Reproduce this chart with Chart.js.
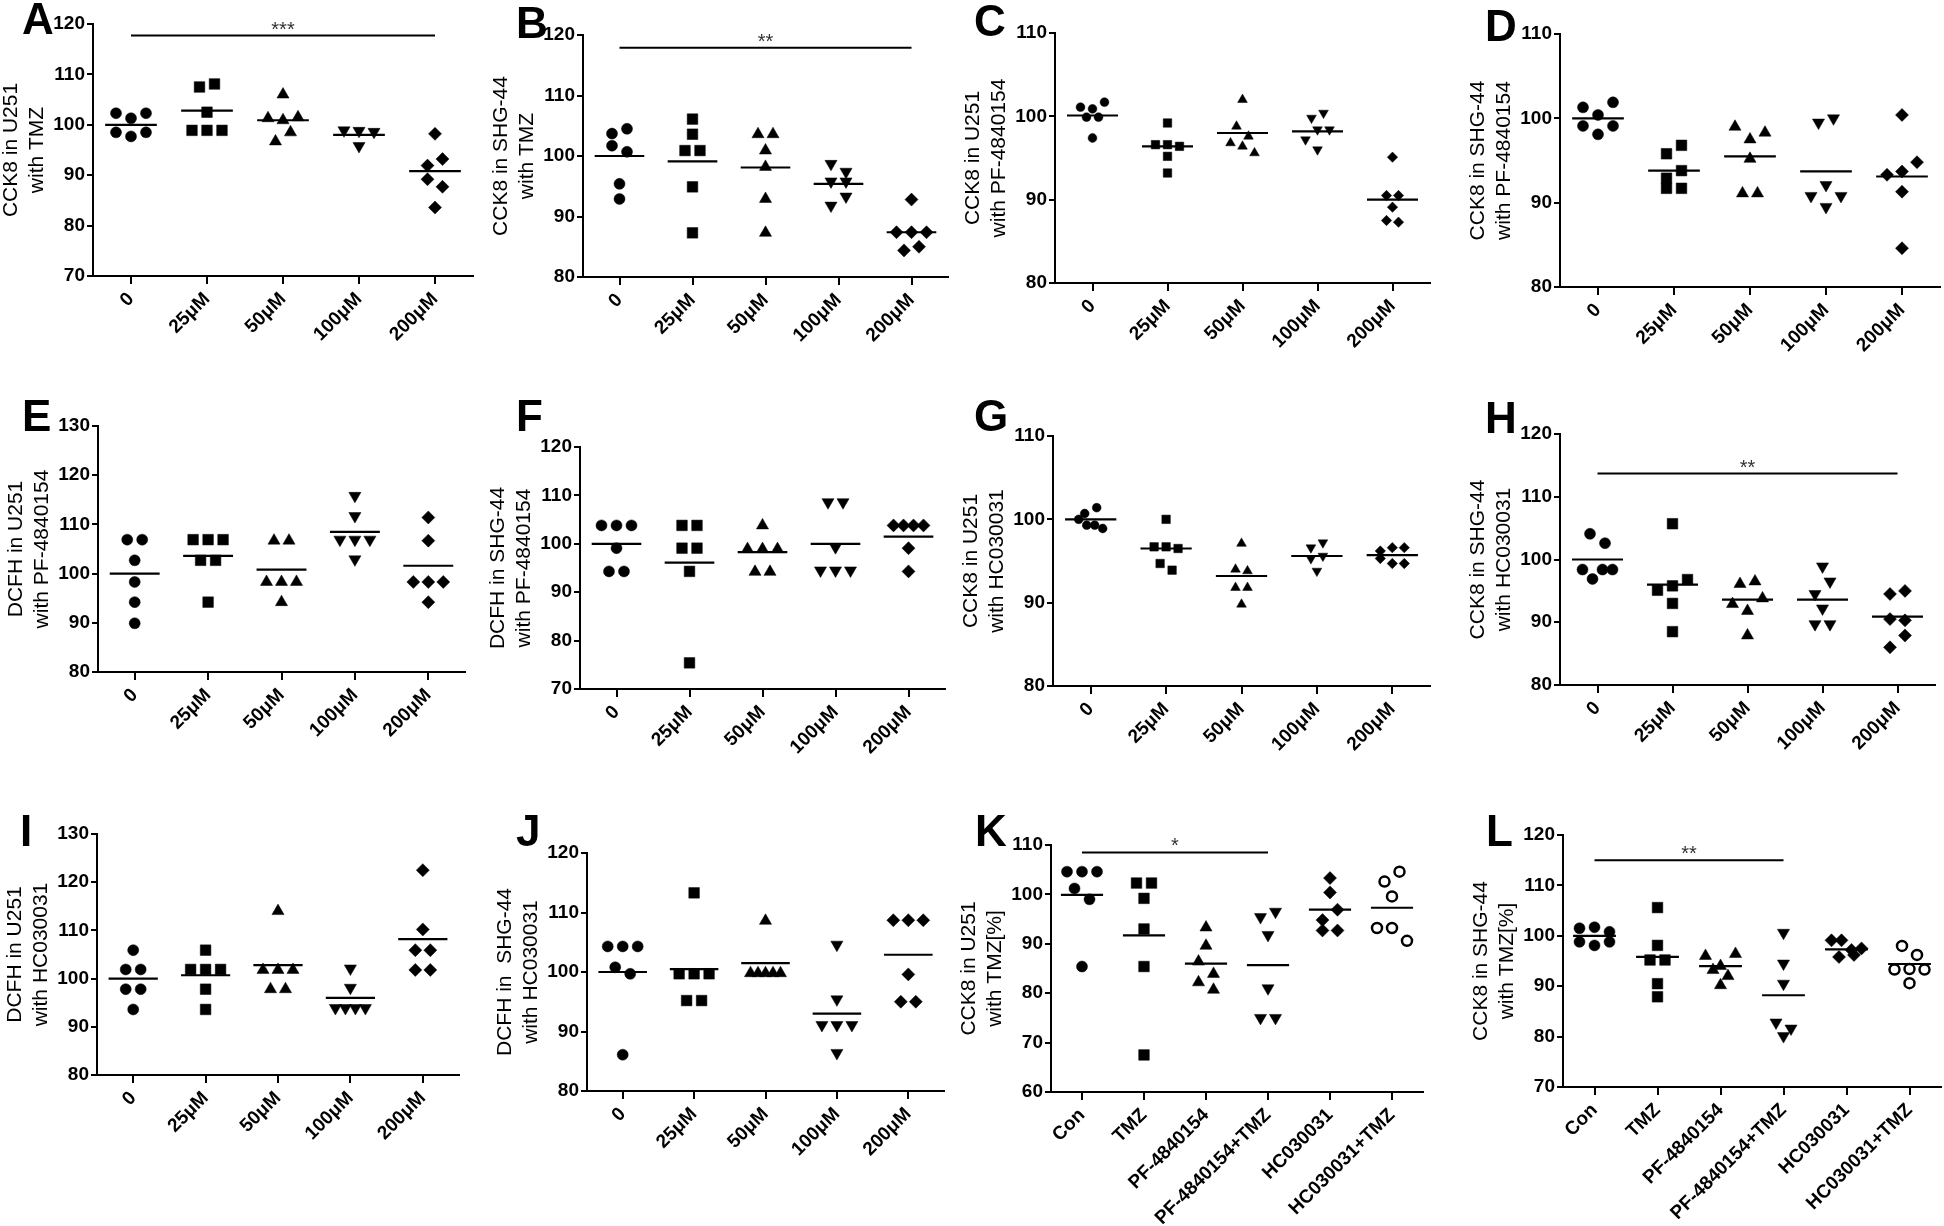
<!DOCTYPE html>
<html>
<head>
<meta charset="utf-8">
<title>CCK8 / DCFH dot plots</title>
<script src="https://cdn.jsdelivr.net/npm/chart.js@4.4.1/dist/chart.umd.min.js"></script>
<style>
  html, body { margin: 0; padding: 0; overflow: hidden; background: #fff; }
  #page { position: relative; width: 1944px; height: 1226px; }
  canvas { position: absolute; }
  .letter { position: absolute; font: bold 44px "Liberation Sans", Arial, sans-serif; line-height: 44px; color: #000; }
</style>
</head>
<body>
<div id="page"></div>
<script>
// categories
const doseLabels = ["0", "25μM", "50μM", "100μM", "200μM"];
const comboLabels = ["Con", "TMZ", "PF-4840154", "PF-4840154+TMZ", "HC030031", "HC030031+TMZ"];

// values, one list per group (left to right inside a row)
const aVals = [[102.3, 101.3, 102.3, 98.5, 97.7, 98.5], [107.5, 108.1, 102.5, 98.9, 98.9, 98.9], [106.0, 101.3, 100.9, 101.5, 96.7, 98.5], [98.9, 98.8, 98.6, 95.8], [98.2, 91.9, 93.2, 89.2, 87.7, 83.6]];
const aMeans = [100.0, 102.8, 100.9, 98.0, 90.8];
const aSig = [0, 4, 117.7, "***"];

const bVals = [[103.7, 104.5, 101.7, 100.7, 95.4, 92.9], [106.1, 103.6, 100.9, 100.9, 94.9, 87.3], [103.6, 103.6, 100.9, 98.2, 92.9, 87.3], [98.7, 97.4, 95.8, 95.8, 91.8, 93.3], [92.8, 87.4, 87.4, 87.4, 84.4, 85.0]];
const bMeans = [100.0, 99.1, 98.1, 95.4, 87.4];
const bSig = [0, 4, 117.9, "**"];

const cVals = [[101.1, 100.9, 101.7, 99.9, 99.9, 97.4], [99.2, 96.6, 96.6, 96.4, 95.2, 93.2], [102.0, 98.8, 97.6, 96.8, 96.4, 95.6], [99.8, 100.4, 97.2, 98.4, 98.4, 96.0], [95.1, 90.5, 90.5, 89.1, 87.5, 87.3]];
const cMeans = [100.1, 96.4, 98.0, 98.2, 90.0];

const dVals = [[101.3, 100.4, 101.9, 99.1, 98.1, 99.1], [95.8, 96.8, 92.9, 93.8, 91.7, 91.7], [99.0, 97.5, 98.3, 95.2, 91.1, 91.1], [99.5, 100.0, 90.8, 92.1, 90.8, 89.5], [100.4, 93.3, 93.7, 94.8, 91.3, 84.6]];
const dMeans = [100.0, 93.8, 95.5, 93.7, 93.1];

const eVals = [[106.9, 106.9, 102.7, 98.3, 94.2, 89.9], [106.9, 106.9, 106.9, 102.7, 102.7, 94.2], [106.7, 106.7, 98.3, 98.3, 98.3, 94.2], [115.8, 111.7, 106.9, 106.9, 106.9, 102.9], [111.4, 106.7, 98.3, 98.3, 98.3, 94.2]];
const eMeans = [100.0, 103.6, 100.8, 108.5, 101.6];

const fVals = [[103.8, 103.8, 103.8, 99.1, 94.3, 94.3], [103.8, 103.8, 99.1, 99.1, 94.3, 75.4], [103.8, 98.9, 98.9, 98.9, 94.2, 94.2], [108.6, 108.6, 99.3, 94.5, 94.5, 94.5], [103.8, 103.8, 103.8, 103.8, 99.1, 94.3]];
const fMeans = [100.0, 96.1, 98.3, 100.0, 101.5];

const gVals = [[100.7, 101.4, 100.0, 99.3, 99.3, 98.9], [100.0, 96.7, 96.7, 96.5, 94.7, 93.9], [97.1, 94.0, 93.8, 91.8, 91.8, 89.8], [96.6, 97.2, 95.3, 95.6, 93.8], [96.2, 96.6, 96.6, 95.3, 94.7, 94.7]];
const gMeans = [100.0, 96.5, 93.2, 95.6, 95.7];

const hVals = [[104.1, 102.6, 98.4, 96.9, 98.4, 98.4], [105.7, 95.1, 95.8, 96.8, 93.0, 88.5], [96.1, 96.5, 92.9, 91.8, 93.8, 87.9], [98.9, 94.5, 96.5, 92.2, 89.7, 89.7], [94.5, 95.0, 90.5, 90.3, 86.0, 87.9]];
const hMeans = [100.0, 96.0, 93.6, 93.6, 90.9];
const hSig = [0, 4, 113.7, "**"];

const iVals = [[105.9, 101.9, 101.9, 97.8, 97.8, 93.6], [105.9, 101.9, 101.9, 101.9, 97.8, 93.6], [114.0, 101.8, 101.8, 101.8, 97.8, 97.8], [102.1, 98.1, 93.9, 93.9, 93.9, 93.9], [122.5, 110.2, 105.9, 105.9, 101.8, 101.8]];
const iMeans = [100.0, 100.7, 102.8, 96.0, 108.2];

const jVals = [[104.3, 104.3, 104.3, 100.8, 99.7, 86.1], [113.3, 99.7, 99.7, 99.7, 95.2, 95.2], [108.6, 99.8, 99.8, 99.8, 99.8, 99.8], [104.6, 95.4, 91.1, 91.1, 91.1, 86.4], [108.7, 108.7, 108.7, 99.6, 95.0, 95.0]];
const jMeans = [100.0, 100.5, 101.5, 93.0, 102.9];

const kVals = [[104.6, 104.6, 104.6, 101.2, 99.0, 85.4], [102.3, 102.3, 99.2, 93.0, 85.4, 67.5], [93.3, 89.6, 86.4, 83.9, 82.2, 80.7], [95.4, 96.5, 91.8, 81.0, 75.0, 75.0], [103.3, 100.4, 94.8, 96.9, 92.7, 92.7], [102.6, 104.6, 99.6, 93.2, 93.2, 90.6]];
const kMeans = [99.9, 91.7, 86.0, 85.7, 96.9, 97.3];
const kSig = [0, 3, 108.5, "*"];

const lVals = [[101.5, 101.7, 100.8, 98.8, 98.1, 98.8], [105.6, 98.1, 95.2, 95.2, 90.5, 87.9], [96.0, 94.0, 96.4, 93.2, 92.0, 90.2], [100.6, 94.5, 90.5, 82.8, 81.6, 80.1], [99.1, 99.1, 97.2, 97.5, 95.8, 96.2], [98.0, 96.2, 93.3, 93.4, 93.3, 90.6]];
const lMeans = [100.0, 95.8, 94.0, 88.2, 97.3, 94.4];
const lSig = [0, 3, 115.0, "**"];

const panels = [
  { id: "A", cats: doseLabels, vals: aVals, means: aMeans, sig: aSig, range: [70, 120], title: ["CCK8 in U251", "with TMZ"] },
  { id: "B", cats: doseLabels, vals: bVals, means: bMeans, sig: bSig, range: [80, 120], title: ["CCK8 in SHG-44", "with TMZ"] },
  { id: "C", cats: doseLabels, vals: cVals, means: cMeans, range: [80, 110], title: ["CCK8 in U251", "with PF-4840154"] },
  { id: "D", cats: doseLabels, vals: dVals, means: dMeans, range: [80, 110], title: ["CCK8 in SHG-44", "with PF-4840154"] },
  { id: "E", cats: doseLabels, vals: eVals, means: eMeans, range: [80, 130], title: ["DCFH in U251", "with PF-4840154"] },
  { id: "F", cats: doseLabels, vals: fVals, means: fMeans, range: [70, 120], title: ["DCFH in SHG-44", "with PF-4840154"] },
  { id: "G", cats: doseLabels, vals: gVals, means: gMeans, range: [80, 110], title: ["CCK8 in U251", "with HC030031"] },
  { id: "H", cats: doseLabels, vals: hVals, means: hMeans, sig: hSig, range: [80, 120], title: ["CCK8 in SHG-44", "with HC030031"] },
  { id: "I", cats: doseLabels, vals: iVals, means: iMeans, range: [80, 130], title: ["DCFH in U251", "with HC030031"] },
  { id: "J", cats: doseLabels, vals: jVals, means: jMeans, range: [80, 120], title: ["DCFH in  SHG-44", "with HC030031"] },
  { id: "K", cats: comboLabels, vals: kVals, means: kMeans, sig: kSig, range: [60, 110], title: ["CCK8 in U251", "with TMZ[%]"] },
  { id: "L", cats: comboLabels, vals: lVals, means: lMeans, sig: lSig, range: [70, 120], title: ["CCK8 in SHG-44", "with TMZ[%]"] }
];

// page layout: plot-area left, top, bottom, category spacing, marker scale, letter spot
const boxes = {
  A: { L: 93, T: 24, B: 276, sp: 76, mk: 1, letter: [22, 3] },
  B: { L: 583, T: 35, B: 277, sp: 73, mk: 1, letter: [516, 7] },
  C: { L: 1055, T: 33, B: 283, sp: 75, mk: 0.8, letter: [974, 5] },
  D: { L: 1560, T: 34, B: 287, sp: 76, mk: 1, letter: [1485, 10] },
  E: { L: 98, T: 426, B: 672, sp: 73.5, mk: 1, letter: [22, 400] },
  F: { L: 580, T: 447, B: 689, sp: 73, mk: 1, letter: [516, 400] },
  G: { L: 1053, T: 436, B: 686, sp: 75.5, mk: 0.8, letter: [974, 400] },
  H: { L: 1560, T: 434, B: 685, sp: 75, mk: 1, letter: [1485, 402] },
  I: { L: 97, T: 834, B: 1075, sp: 72.5, mk: 1, letter: [20, 815] },
  J: { L: 587, T: 853, B: 1091, sp: 71.5, mk: 1, letter: [516, 815] },
  K: { L: 1051, T: 845, B: 1092, sp: 62, mk: 1, letter: [975, 815] },
  L: { L: 1563, T: 835, B: 1087, sp: 63, mk: 1, letter: [1486, 815] }
};

const Y_W = 94, X_H = 132, PAD_T = 30, PAD_R = 16;
const FONT = '"Liberation Sans", Arial, sans-serif';
Chart.defaults.font.family = FONT;
Chart.defaults.color = "#000";

// marker look per group
const shapes = ["circle", "rect", "triangle", "triangle", "rectRot", "circle"];
const rotations = [0, 0, 0, 180, 0, 0];
const radii = [5.5, 7.5, 7, 7, 6.5, 5];

// spread points with close values side by side, like a scatter dot plot
function swarm(vals, thr, mk) {
  const order = vals.map((v, i) => i).sort((a, b) => vals[b] - vals[a]);
  const offs = new Array(vals.length).fill(0);
  let cluster = [];
  let top = null;
  const flush = () => {
    cluster.sort((a, b) => a - b);
    const c = cluster.length;
    const step = c <= 3 ? 15 * mk : 30 * mk / (c - 1);
    cluster.forEach((k, j) => { offs[k] = (j - (c - 1) / 2) * step; });
    cluster = [];
  };
  order.forEach(i => {
    if (top === null || top - vals[i] > thr) { flush(); top = vals[i]; }
    cluster.push(i);
  });
  flush();
  return offs;
}

const sigPlugin = {
  id: "sig",
  afterDatasetsDraw(chart, args, opts) {
    if (!opts || !opts.text) return;
    const { ctx, scales: { x, y } } = chart;
    ctx.save();
    ctx.fillStyle = "#333";
    ctx.font = "20px " + FONT;
    ctx.textAlign = "center";
    ctx.textBaseline = "alphabetic";
    ctx.fillText(opts.text, x.getPixelForValue((opts.from + opts.to) / 2), y.getPixelForValue(opts.y));
    ctx.restore();
  }
};

const page = document.getElementById("page");

panels.forEach(p => {
  const b = boxes[p.id];
  const n = p.cats.length;
  const [yMin, yMax] = p.range;
  const W = Y_W + n * b.sp + PAD_R;
  const H = PAD_T + (b.B - b.T) + X_H;
  const pxPerUnit = (b.B - b.T) / (yMax - yMin);

  const cv = document.createElement("canvas");
  cv.width = W;
  cv.height = H;
  cv.style.left = (b.L - Y_W) + "px";
  cv.style.top = (b.T - PAD_T) + "px";
  page.appendChild(cv);

  const letter = document.createElement("div");
  letter.className = "letter";
  letter.textContent = p.id;
  letter.style.left = b.letter[0] + "px";
  letter.style.top = (b.letter[1] - 6) + "px";
  page.appendChild(letter);

  const datasets = [];
  // mean lines
  p.means.forEach((m, g) => {
    datasets.push({
      data: [{ x: g - 0.34, y: m }, { x: g + 0.34, y: m }],
      showLine: true, borderColor: "#000", borderWidth: 2.2, pointRadius: 0, order: 0
    });
  });
  // significance bar
  if (p.sig) {
    datasets.push({
      data: [{ x: p.sig[0], y: p.sig[2] }, { x: p.sig[1], y: p.sig[2] }],
      showLine: true, borderColor: "#000", borderWidth: 2, pointRadius: 0, order: 0
    });
  }
  // points
  p.vals.forEach((vals, g) => {
    const offs = swarm(vals, 13 * b.mk / pxPerUnit, b.mk);
    const open = g === 5;
    datasets.push({
      data: vals.map((v, k) => ({ x: g + offs[k] / b.sp, y: v })),
      showLine: false,
      pointStyle: shapes[g],
      pointRotation: rotations[g],
      pointRadius: radii[g] * b.mk,
      pointBackgroundColor: open ? "#fff" : "#000",
      pointBorderColor: "#000",
      pointBorderWidth: open ? 2.5 : 0.5,
      order: 1
    });
  });

  new Chart(cv, {
    type: "scatter",
    data: { datasets },
    options: {
      responsive: false,
      animation: false,
      events: [],
      layout: { padding: { left: 0, top: PAD_T, right: PAD_R, bottom: 0 } },
      plugins: {
        legend: { display: false },
        tooltip: { enabled: false },
        sig: p.sig ? { from: p.sig[0], to: p.sig[1], y: p.sig[2], text: p.sig[3] } : {}
      },
      scales: {
        x: {
          type: "linear",
          min: -0.5,
          max: n - 0.5,
          afterBuildTicks: s => { s.ticks = p.cats.map((c, i) => ({ value: i })); },
          afterFit: s => { s.height = X_H; },
          ticks: {
            callback: v => p.cats[v],
            autoSkip: false,
            maxRotation: 45,
            minRotation: 45,
            padding: 4,
            color: "#000",
            font: { size: 19, weight: "bold" }
          },
          grid: { drawOnChartArea: false, drawTicks: true, tickLength: 8, color: "#000", lineWidth: 2 },
          border: { display: true, color: "#000", width: 2 }
        },
        y: {
          min: yMin,
          max: yMax,
          afterFit: s => { s.width = Y_W; },
          ticks: { stepSize: 10, padding: 2, color: "#000", font: { size: 19, weight: "bold" } },
          grid: { drawOnChartArea: false, drawTicks: true, tickLength: 6, color: "#000", lineWidth: 2 },
          border: { display: true, color: "#000", width: 2 },
          title: { display: true, text: p.title, color: "#000", font: { size: 21 }, padding: { top: 0, bottom: 0 } }
        }
      }
    },
    plugins: [sigPlugin]
  });
});
</script>
</body>
</html>
